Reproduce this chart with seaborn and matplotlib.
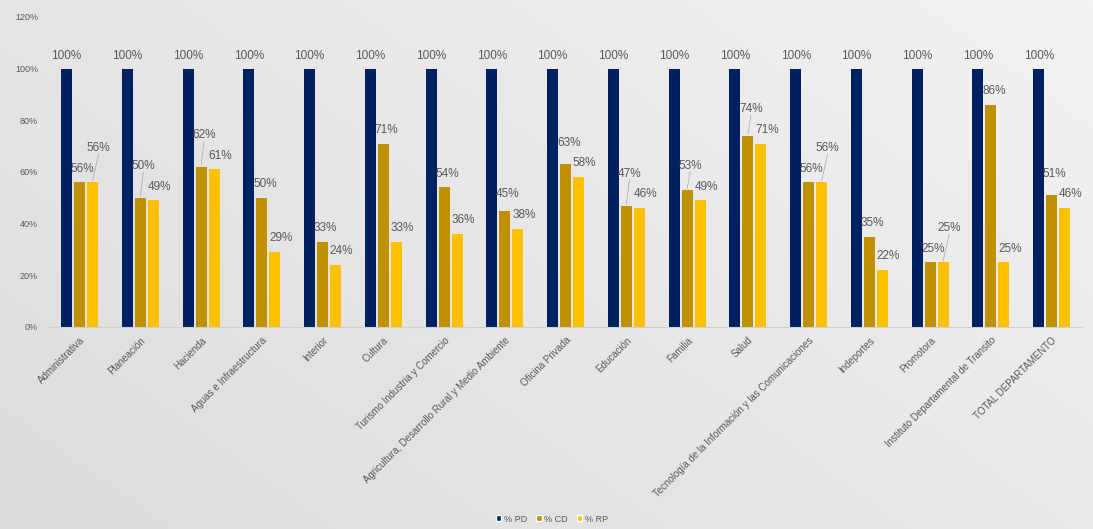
import numpy as np
import pandas as pd
import matplotlib
matplotlib.use("Agg")
import matplotlib.pyplot as plt
from matplotlib.patches import Patch
import seaborn as sns

categorias = ["Administrativa", "Planeación", "Hacienda", "Aguas e Infraestructura",
              "Interior", "Cultura", "Turismo Industria y Comercio",
              "Agricultura, Desarrollo Rural y Medio Ambiente", "Oficina Privada",
              "Educación", "Familia", "Salud",
              "Tecnología de la Información y las Comunicaciones", "Indeportes",
              "Promotora", "Instituto Departamental de Transito", "TOTAL DEPARTAMENTO"]
pct_pd = [100, 100, 100, 100, 100, 100, 100, 100, 100, 100, 100, 100, 100, 100, 100, 100, 100]
pct_cd = [56, 50, 62, 50, 33, 71, 54, 45, 63, 47, 53, 74, 56, 35, 25, 86, 51]
pct_rp = [56, 49, 61, 29, 24, 33, 36, 38, 58, 46, 49, 71, 56, 22, 25, 25, 46]
series = ["% PD", "% CD", "% RP"]
colores = ["#002060", "#BF9000", "#FFC000"]
yticks = [0, 20, 40, 60, 80, 100, 120]

df = pd.DataFrame({
    "Área": categorias * 3,
    "valor": [v / 100 for v in pct_pd + pct_cd + pct_rp],
    "serie": [series[0]] * len(categorias) + [series[1]] * len(categorias) + [series[2]] * len(categorias),
})

sns.set_theme(style="white")
plt.rcParams["font.family"] = ["Liberation Sans", "DejaVu Sans"]
gray = "#595959"

fig = plt.figure(figsize=(10.93, 5.29), dpi=100)
# background gradient
bg = fig.add_axes([0, 0, 1, 1], zorder=-10)
xx, yy = np.meshgrid(np.linspace(0, 1, 300), np.linspace(0, 1, 150))
grad = 0.6 * xx + 0.4 * (1 - yy)
bg.imshow(grad, cmap=matplotlib.colors.LinearSegmentedColormap.from_list("g", ["#dcdcdc", "#f2f2f2"]),
          aspect="auto", extent=[0, 1, 0, 1], origin="upper")
bg.axis("off")

ax = fig.add_axes([0.045, 0.382, 0.945, 0.586])
ax.patch.set_alpha(0)
sns.barplot(data=df, x="Área", y="valor", hue="serie", palette=colores,
            width=0.64, gap=0.15, ax=ax, saturation=1, legend=False, linewidth=0)

ax.set_ylim(0, 1.2)
ax.set_xlim(-0.5, len(categorias) - 0.5)
ax.set_yticks([t / 100 for t in yticks])
ax.set_yticklabels([f"{t}%" for t in yticks], fontsize=6.5, color=gray)
ax.set_xticks(range(len(categorias)))
ax.set_xticklabels(categorias, rotation=45, ha="right", rotation_mode="anchor",
                   fontsize=7, color=gray)
ax.tick_params(axis="x", length=0, pad=6)
ax.tick_params(axis="y", length=0, pad=8)
ax.set_xlabel("")
ax.set_ylabel("")
for s in ["top", "right", "left"]:
    ax.spines[s].set_visible(False)
ax.spines["bottom"].set_color("#d0d0d0")
ax.spines["bottom"].set_linewidth(0.8)

# data labels
cont = ax.containers
for i in range(len(categorias)):
    pb = cont[0][i]
    x0 = pb.get_x() + pb.get_width() / 2
    ax.text(x0, pb.get_height() + 0.025, f"{pct_pd[i]}%", ha="center", va="bottom",
            fontsize=8.5, color=gray)
    cb = cont[1][i]
    rb = cont[2][i]
    xc = cb.get_x() + cb.get_width() / 2
    xr = rb.get_x() + rb.get_width() / 2
    yc = cb.get_height() + 0.03
    yr = rb.get_height() + 0.03
    if abs(yc - yr) < 0.07:
        if yr >= yc - 0.005 and pct_rp[i] >= pct_cd[i]:
            yr = yc + 0.08
        else:
            yc = yr + 0.08
    ax.text(xc + 0.05, yc, f"{pct_cd[i]}%", ha="center", va="bottom", fontsize=8.5, color=gray)
    ax.text(xr + 0.1, yr, f"{pct_rp[i]}%", ha="center", va="bottom", fontsize=8.5, color=gray)
    if yr - rb.get_height() > 0.06:
        ax.plot([xr, xr + 0.1], [rb.get_height() + 0.005, yr], color="#a6a6a6", lw=0.5)
    if yc - cb.get_height() > 0.06:
        ax.plot([xc, xc + 0.05], [cb.get_height() + 0.005, yc], color="#a6a6a6", lw=0.5)

handles = [Patch(facecolor=c, label=s) for c, s in zip(colores, series)]
fig.legend(handles=handles, loc="lower center", bbox_to_anchor=(0.505, -0.005), ncol=3,
           frameon=False, fontsize=6.5, handlelength=0.6, handleheight=0.6,
           handletextpad=0.3, columnspacing=1.0, labelcolor=gray)

fig.savefig("out.png", dpi=100)
